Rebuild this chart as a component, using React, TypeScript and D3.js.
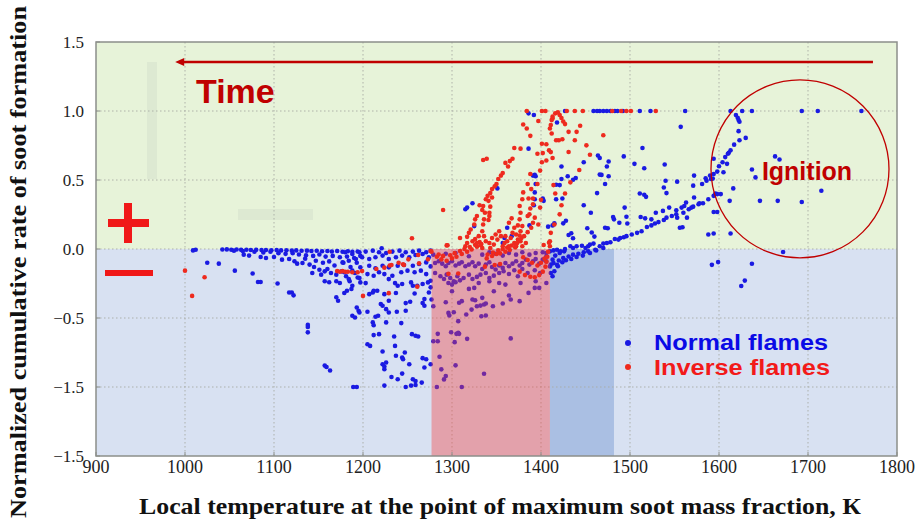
import React from "react";
import * as d3 from "d3";

// Axis ticks
const X_TICKS = [900, 1000, 1100, 1200, 1300, 1400, 1500, 1600, 1700, 1800];
const Y_TICKS = [1.5, 1.0, 0.5, 0, -0.5, -1.0, -1.5];
const Y_TICK_LABELS = ["1.5", "1.0", "0.5", "0.0", "\u22120.5", "\u22121.5", "\u22121.5"];

// Highlighted temperature windows (below zero)
const RED_BAND = [1277, 1410];
const BLUE_BAND = [1410, 1482];

// Normal flames: [temperature K, normalized cumulative rate]
const normalFlames: [number, number][] = [
  [1009, -0.01], [1012, -0.005], [1025, -0.10], [1038, -0.106], [1056, -0.157], [1076, -0.177],
  [1082, -0.239], [1085, -0.239], [1104, -0.25], [1117, -0.315], [1120, -0.315], [1122, -0.336],
  [1138, -0.55], [1138, -0.565], [1138, -0.604], [1157, -0.845], [1159, -0.855], [1163, -0.88],
  [1189, -1.0], [1193, -1.0],
  [1042, -0.004], [1047, -0.003], [1052, -0.005], [1058, -0.004], [1063, -0.006], [1069, -0.005],
  [1074, -0.007], [1080, -0.006], [1086, -0.008], [1091, -0.007], [1097, -0.009], [1103, -0.008],
  [1108, -0.01], [1114, -0.009], [1120, -0.012], [1125, -0.01], [1131, -0.013], [1137, -0.012],
  [1142, -0.015], [1148, -0.013], [1154, -0.016], [1160, -0.014], [1165, -0.018], [1171, -0.015],
  [1177, -0.02], [1183, -0.016], [1188, -0.02], [1194, -0.018],
  [1055, -0.012], [1065, -0.015], [1078, -0.02], [1088, -0.025], [1096, -0.02], [1105, -0.03],
  [1113, -0.035], [1121, -0.03], [1128, -0.04], [1136, -0.045], [1144, -0.05], [1151, -0.04],
  [1158, -0.055], [1166, -0.05], [1174, -0.06], [1182, -0.055], [1190, -0.065], [1197, -0.05],
  [1066, -0.041], [1072, -0.048], [1085, -0.058], [1091, -0.065], [1100, -0.058], [1109, -0.077],
  [1117, -0.072], [1123, -0.089], [1126, -0.106], [1132, -0.101], [1140, -0.113], [1145, -0.13],
  [1151, -0.15], [1157, -0.162], [1160, -0.145], [1164, -0.174], [1170, -0.186], [1176, -0.162],
  [1181, -0.198], [1185, -0.234], [1191, -0.174], [1196, -0.21],
  [1143, -0.174], [1153, -0.186], [1157, -0.234], [1162, -0.241], [1170, -0.234], [1174, -0.246],
  [1135, -0.07], [1147, -0.085], [1155, -0.1], [1162, -0.09], [1168, -0.12], [1178, -0.1],
  [1186, -0.13], [1193, -0.1], [1170, -0.35], [1172, -0.375],
  [1224, -0.99], [1248, -1.0], [1254, -0.99], [1259, -0.985], [1266, -0.968],
  [1232, -0.927], [1239, -0.944], [1244, -0.903], [1256, -0.944], [1259, -0.956],
  [1222, -0.835], [1224, -0.852], [1224, -0.871], [1226, -0.823],
  [1237, -0.774], [1244, -0.786], [1245, -0.799], [1252, -0.835], [1269, -0.859], [1267, -0.791],
  [1271, -0.799], [1276, -0.835],
  [1205, -0.69], [1208, -0.702], [1222, -0.743], [1236, -0.702], [1247, -0.75],
  [1212, -0.624], [1218, -0.617], [1235, -0.634], [1243, -0.537], [1255, -0.617], [1259, -0.629],
  [1262, -0.634], [1211, -0.532], [1212, -0.552], [1226, -0.532],
  [1193, -0.424], [1195, -0.448], [1196, -0.46], [1205, -0.455], [1214, -0.491], [1217, -0.484],
  [1229, -0.46], [1238, -0.455], [1248, -0.448], [1188, -0.484], [1191, -0.496],
  [1220, -0.399], [1222, -0.411], [1226, -0.436], [1229, -0.375], [1224, -0.327], [1237, -0.319],
  [1248, -0.392], [1253, -0.382], [1258, -0.322], [1269, -0.363], [1267, -0.392], [1269, -0.411],
  [1274, -0.315], [1276, -0.278],
  [1211, -0.315], [1212, -0.303], [1207, -0.327], [1216, -0.303], [1182, -0.303], [1187, -0.29],
  [1179, -0.319],
  [1188, -0.266], [1197, -0.242], [1203, -0.247], [1229, -0.218], [1236, -0.247], [1239, -0.266],
  [1244, -0.254], [1254, -0.242], [1256, -0.266], [1261, -0.266], [1267, -0.254], [1273, -0.242],
  [1276, -0.23],
  [1184, -0.218], [1194, -0.206], [1205, -0.182], [1212, -0.194], [1218, -0.169], [1224, -0.182],
  [1233, -0.194], [1243, -0.169], [1250, -0.157], [1258, -0.169], [1265, -0.157], [1271, -0.182],
  [1179, -0.169], [1188, -0.157], [1197, -0.133], [1207, -0.121], [1214, -0.14], [1222, -0.121],
  [1229, -0.133], [1239, -0.121], [1246, -0.116], [1256, -0.121], [1263, -0.109], [1271, -0.097],
  [1276, -0.126],
  [1177, -0.097], [1184, -0.085], [1192, -0.073], [1199, -0.06], [1207, -0.073], [1214, -0.06],
  [1222, -0.048], [1229, -0.073], [1237, -0.06], [1244, -0.048], [1252, -0.06], [1259, -0.044],
  [1267, -0.036], [1274, -0.06],
  [1180, -0.024], [1188, -0.036], [1196, -0.024], [1203, -0.019], [1211, -0.012], [1218, -0.024],
  [1226, -0.029], [1233, -0.019], [1241, -0.012], [1248, -0.024], [1256, -0.019], [1263, -0.012],
  [1271, -0.024], [1276, -0.012], [1221, 0.005],
  [1283, -1.0], [1311, -1.0], [1291, -0.945], [1293, -0.921], [1288, -0.872], [1304, -0.843],
  [1286, -0.781], [1336, -0.904], [1279, -0.668], [1284, -0.668], [1303, -0.675], [1299, -0.603],
  [1305, -0.615], [1307, -0.607], [1308, -0.615], [1317, -0.651], [1366, -0.648], [1284, -0.615],
  [1296, -0.463], [1302, -0.458], [1297, -0.482], [1307, -0.523], [1316, -0.475], [1322, -0.439],
  [1328, -0.415], [1333, -0.487], [1338, -0.482], [1279, -0.415], [1293, -0.386], [1308, -0.39],
  [1311, -0.378], [1323, -0.366], [1326, -0.371], [1332, -0.41], [1336, -0.402], [1338, -0.395],
  [1346, -0.415], [1357, -0.395], [1364, -0.337], [1366, -0.366], [1376, -0.378], [1386, -0.318],
  [1300, -0.306], [1319, -0.289], [1325, -0.282], [1334, -0.354], [1347, -0.306], [1277, -0.366],
  [1393, -0.282], [1398, -0.282],
  [1281, -0.101], [1285, -0.089], [1289, -0.106], [1293, -0.125], [1296, -0.101], [1300, -0.089],
  [1304, -0.12], [1308, -0.106], [1311, -0.096], [1315, -0.125], [1319, -0.113], [1323, -0.096],
  [1326, -0.125], [1330, -0.106], [1334, -0.145], [1338, -0.113], [1342, -0.096], [1345, -0.13],
  [1349, -0.149], [1353, -0.12], [1357, -0.137], [1360, -0.101], [1364, -0.125], [1368, -0.106],
  [1372, -0.089], [1376, -0.12], [1379, -0.101], [1383, -0.077], [1387, -0.113], [1391, -0.089],
  [1394, -0.072], [1398, -0.106], [1402, -0.077], [1406, -0.053],
  [1281, -0.174], [1287, -0.198], [1291, -0.217], [1294, -0.186], [1298, -0.21], [1302, -0.234],
  [1306, -0.198], [1309, -0.227], [1313, -0.21], [1319, -0.186], [1323, -0.217], [1328, -0.202],
  [1332, -0.186], [1338, -0.174], [1342, -0.21], [1347, -0.193], [1353, -0.174], [1358, -0.161],
  [1364, -0.181], [1370, -0.154], [1374, -0.198], [1379, -0.145], [1385, -0.174], [1393, -0.154],
  [1399, -0.174],
  [1279, -0.041], [1293, -0.034], [1304, -0.029], [1319, -0.053], [1334, -0.041], [1342, -0.024],
  [1349, -0.034], [1357, -0.048], [1364, -0.029], [1372, -0.041], [1379, -0.024], [1387, -0.041],
  [1394, -0.029], [1402, -0.024],
  [1296, -0.246], [1300, -0.258], [1304, -0.241], [1330, -0.246], [1342, -0.234], [1353, -0.246],
  [1360, -0.258], [1377, -0.246], [1394, -0.234], [1406, -0.246],
  [1411, -0.113], [1413, -0.077], [1416, -0.048], [1421, -0.029], [1426, -0.017], [1415, -0.161],
  [1419, -0.125], [1424, -0.096], [1428, -0.082], [1434, -0.072], [1440, -0.058], [1447, -0.048],
  [1455, -0.029], [1462, -0.01], [1470, 0.007], [1413, -0.198], [1411, -0.174],
  [1414, -0.102], [1420, -0.083], [1425, -0.066], [1431, -0.054], [1436, -0.041], [1442, -0.034],
  [1448, -0.024], [1453, -0.017], [1461, -0.005], [1410, -0.127], [1418, -0.115], [1406, -0.09],
  [1406, -0.029], [1410, -0.017], [1414, -0.01], [1418, -0.005], [1422, -0.017], [1427, 0.0],
  [1433, 0.02], [1436, 0.007], [1440, 0.02], [1446, 0.024], [1450, 0.007], [1453, 0.02],
  [1455, 0.032], [1459, 0.039], [1466, 0.02], [1470, 0.039], [1474, 0.044], [1478, 0.049],
  [1483, 0.073], [1487, 0.068], [1489, 0.08], [1493, 0.085], [1496, 0.093], [1502, 0.105],
  [1508, 0.117], [1513, 0.129], [1519, 0.159], [1524, 0.171], [1528, 0.185], [1532, 0.195],
  [1538, 0.21], [1541, 0.227], [1547, 0.239], [1552, 0.251], [1560, 0.263], [1566, 0.288],
  [1571, 0.307], [1577, 0.324], [1582, 0.332], [1588, 0.361], [1594, 0.385], [1596, 0.402],
  [1427, 1], [1459, 1], [1463, 1], [1466, 1], [1470, 1], [1474, 1], [1478, 1], [1483, 1],
  [1486, 1], [1492, 1], [1511, 1], [1523, 1], [1562, 1], [1386, 0.983], [1392, 0.971],
  [1418, 0.917], [1557, 0.885], [1514, 0.732], [1493, 0.671], [1464, 0.678], [1466, 0.659],
  [1476, 0.634], [1474, 0.598], [1476, 0.527], [1468, 0.537], [1466, 0.539], [1448, 0.629],
  [1505, 0.617], [1516, 0.585], [1539, 0.612], [1423, 0.598], [1439, 0.515], [1436, 0.502],
  [1430, 0.527], [1423, 0.507], [1421, 0.463], [1417, 0.466], [1402, 0.366], [1403, 0.349],
  [1417, 0.361], [1424, 0.366], [1472, 0.471], [1463, 0.405], [1511, 0.402], [1516, 0.393],
  [1518, 0.378], [1540, 0.495], [1538, 0.446], [1541, 0.405], [1553, 0.488], [1572, 0.532],
  [1571, 0.459], [1581, 0.471], [1586, 0.495], [1585, 0.512], [1590, 0.532], [1448, 0.317],
  [1456, 0.263], [1481, 0.232], [1496, 0.234], [1497, 0.185], [1494, 0.3], [1512, 0.232],
  [1517, 0.222], [1524, 0.215], [1529, 0.263], [1537, 0.276], [1544, 0.3], [1552, 0.281],
  [1558, 0.3], [1561, 0.312], [1563, 0.337], [1569, 0.3], [1572, 0.373], [1578, 0.332],
  [1594, 0.268], [1553, 0.227], [1564, 0.227], [1556, 0.154], [1559, 0.158], [1588, 0.105],
  [1386, 0.727], [1391, 0.532], [1393, 0.537], [1394, 0.527], [1393, 0.41], [1351, 0.439],
  [1315, 0.288], [1317, 0.3], [1323, 0.332], [1325, 0.166], [1362, 0.154], [1387, 0.171],
  [1359, 0.08], [1357, 0.044], [1367, 0.093], [1394, 0.471], [1393, 0.361], [1392, 0.317],
  [1413, 0.171], [1408, 0.162], [1415, 0.186], [1425, 0.186], [1428, 0.205], [1431, 0.101],
  [1434, 0.114], [1436, 0.078], [1472, 0.154], [1475, 0.15], [1482, 0.215], [1488, 0.19],
  [1452, 0.15], [1457, 0.12], [1460, 0.09],
  [1613, 1], [1626, 1], [1637, 1], [1693, 1], [1711, 1], [1760, 1],
  [1619, 0.971], [1621, 0.951], [1622, 0.934], [1623, 0.922], [1622, 0.854], [1630, 0.805],
  [1623, 0.788], [1617, 0.756], [1613, 0.715], [1611, 0.698], [1610, 0.69], [1607, 0.666],
  [1604, 0.629], [1600, 0.6], [1598, 0.561], [1594, 0.544], [1593, 0.51], [1591, 0.507],
  [1609, 0.617], [1605, 0.556], [1594, 0.654], [1663, 0.671], [1668, 0.649], [1637, 0.576],
  [1641, 0.519], [1715, 0.422], [1646, 0.349], [1666, 0.349], [1693, 0.341], [1616, 0.439],
  [1612, 0.349], [1598, 0.398], [1602, 0.398], [1598, 0.268], [1594, 0.112], [1613, 0.112],
  [1592, -0.115], [1599, -0.095], [1637, -0.107], [1629, -0.229], [1625, -0.268], [1672, -0.022],
];

// Inverse flames: [temperature K, normalized cumulative rate]
const inverseFlames: [number, number][] = [
  [1000, -0.157], [1022, -0.205], [1008, -0.34],
  [1171, -0.16], [1174, -0.165], [1177, -0.16], [1180, -0.165], [1183, -0.165], [1188, -0.169],
  [1194, -0.169], [1199, -0.16], [1200, -0.34], [1215, -0.145], [1224, -0.135], [1230, -0.02],
  [1230, -0.12], [1229, -0.32], [1240, -0.1], [1246, -0.116], [1251, -0.075], [1261, -0.273],
  [1262, -0.043], [1263, -0.104], [1273, -0.075], [1232, -0.116], [1245, -0.111], [1276, -0.015],
  [1255, 0.078], [1290, 0.283], [1335, 0.645],
  [1277, -0.02], [1283, -0.056], [1288, -0.075], [1294, -0.085], [1300, -0.068], [1305, -0.056],
  [1311, -0.036], [1317, -0.02], [1322, -0.003], [1328, 0.017], [1333, 0.036], [1294, 0.026],
  [1307, -0.177], [1296, -0.18], [1337, -0.128], [1339, -0.068], [1345, -0.051], [1350, -0.036],
  [1354, -0.032], [1360, -0.02], [1365, -0.007], [1371, 0.012], [1373, 0.041], [1348, -0.116],
  [1354, -0.109], [1376, -0.164], [1382, -0.189], [1388, -0.201], [1393, -0.205], [1398, -0.189],
  [1402, -0.164], [1405, -0.128], [1406, -0.092], [1407, -0.056], [1408, -0.02], [1403, 0.029],
  [1409, 0.046],
  [1285, -0.04], [1290, -0.05], [1298, -0.045], [1303, -0.03], [1309, -0.015], [1314, 0.0],
  [1320, 0.015], [1326, 0.03], [1331, 0.05], [1340, -0.04], [1346, -0.025], [1352, -0.01],
  [1357, 0.0], [1362, 0.01], [1367, 0.025], [1375, 0.06], [1378, 0.08], [1380, -0.06],
  [1385, -0.08], [1390, -0.1], [1396, -0.12], [1400, -0.1], [1404, -0.07],
  [1384, 1.0], [1401, 1.0], [1405, 1.0], [1429, 1.0], [1438, 1.0], [1447, 1.0], [1480, 1.0],
  [1490, 1.0], [1496, 1.0], [1501, 1.0], [1529, 1.0],
  [1397, 0.927], [1413, 0.946], [1411, 0.898], [1380, 0.902], [1384, 0.873], [1388, 0.82],
  [1412, 0.837], [1420, 0.788], [1401, 0.763], [1406, 0.759], [1409, 0.715], [1411, 0.702],
  [1377, 0.727], [1370, 0.732], [1396, 0.69], [1402, 0.695], [1413, 0.659], [1339, 0.654],
  [1365, 0.637], [1360, 0.624], [1368, 0.654], [1363, 0.598], [1401, 0.629], [1399, 0.568],
  [1406, 0.641], [1357, 0.551], [1355, 0.532], [1352, 0.507], [1350, 0.471], [1348, 0.454],
  [1388, 0.544], [1385, 0.471], [1389, 0.434], [1396, 0.471], [1345, 0.434], [1343, 0.405],
  [1340, 0.385], [1338, 0.361], [1345, 0.373], [1341, 0.349], [1380, 0.41], [1386, 0.366],
  [1391, 0.366], [1335, 0.312], [1334, 0.283], [1331, 0.317], [1337, 0.263], [1343, 0.307],
  [1342, 0.263], [1379, 0.361], [1376, 0.312], [1377, 0.263], [1391, 0.324], [1388, 0.293],
  [1387, 0.251], [1328, 0.239], [1326, 0.215], [1325, 0.178], [1336, 0.215], [1335, 0.178],
  [1342, 0.239], [1341, 0.21], [1367, 0.222], [1364, 0.19], [1376, 0.215], [1374, 0.171],
  [1385, 0.239], [1397, 0.178], [1321, 0.141], [1319, 0.117], [1317, 0.088], [1309, 0.08],
  [1334, 0.129], [1336, 0.093], [1353, 0.129], [1355, 0.093], [1351, 0.068], [1360, 0.093],
  [1370, 0.154], [1368, 0.117], [1379, 0.166], [1377, 0.129], [1376, 0.098], [1374, 0.068],
  [1295, 0.027], [1317, 0.044], [1315, 0.02], [1328, 0.044], [1332, 0.027], [1334, 0.007],
  [1342, 0.044], [1347, 0.032], [1343, 0.007], [1357, 0.02], [1364, 0.02], [1370, 0.044],
  [1372, 0.02], [1379, 0.02], [1383, 0.044],
  [1323, 0.056], [1326, 0.073], [1330, 0.093], [1338, 0.056], [1345, 0.08], [1349, 0.105],
  [1359, 0.044], [1362, 0.056], [1366, 0.08], [1372, 0.105], [1377, 0.056], [1381, 0.093],
  [1385, 0.122], [1389, 0.154], [1391, 0.19], [1393, 0.227],
  [1416, 0.983], [1413, 0.959], [1412, 0.934], [1421, 0.971], [1423, 0.949], [1425, 0.924],
  [1427, 0.905], [1419, 0.99], [1410, 0.873], [1417, 0.788], [1424, 0.795], [1431, 0.849],
  [1438, 0.788], [1444, 0.893], [1440, 0.849], [1431, 0.703], [1451, 0.751], [1470, 0.824],
  [1455, 0.683], [1443, 0.573], [1433, 0.483], [1427, 0.402], [1414, 0.463], [1416, 0.402],
  [1423, 0.317], [1421, 0.251], [1415, 0.178], [1411, 0.117], [1410, 0.056], [1410, 0.02],
  [1399, 0.3], [1400, 0.356],
];

const W = 915;
const H = 520;
const M = { left: 96, right: 897, top: 42, bottom: 456 };

const BG_POS = "#e7f3d9";
const BG_NEG = "#d8e1f2";
const BLUE = "#1a1ae2";
const RED = "#ee2a1e";
const DARK_RED = "#c00000";
const SERIF = "'Liberation Serif', 'Times New Roman', serif";
const SANS = "'Liberation Sans', Arial, sans-serif";

export default function App() {
  const x = d3.scaleLinear().domain([900, 1800]).range([M.left, M.right]);
  const y = d3.scaleLinear().domain([-1.5, 1.5]).range([M.bottom, M.top]);
  const y0 = y(0);
  const r = 2.3;

  const arrowY = y(1.355);
  const arrowX0 = x(1773);
  const arrowX1 = x(989);

  const ignX = x(1691);
  const ignY = y(0.58);

  return (
    <svg width={W} height={H} style={{ position: "absolute", left: 0, top: 0, background: "#fff" }}>
      {/* quadrants */}
      <rect x={M.left} y={M.top} width={M.right - M.left} height={y0 - M.top} fill={BG_POS} />
      <rect x={M.left} y={y0} width={M.right - M.left} height={M.bottom - y0} fill={BG_NEG} />
      <rect x={x(BLUE_BAND[0])} y={y0} width={x(BLUE_BAND[1]) - x(BLUE_BAND[0])} height={M.bottom - y0} fill="#aabfe3" />

      {/* faint sign marks */}
      <rect x={147} y={62} width={10} height={117} fill="#dde9d2" />
      <rect x={238} y={209} width={75} height={11} fill="#dde9d2" />

      {/* grid */}
      {X_TICKS.slice(1, -1).map((t) => (
        <line key={"gx" + t} x1={x(t)} x2={x(t)} y1={M.top} y2={M.bottom} stroke="#a8aca4" strokeWidth={0.9} strokeDasharray="1.5,2.5" />
      ))}
      {Y_TICKS.slice(1, -1).map((t) => (
        <line key={"gy" + t} x1={M.left} x2={M.right} y1={y(t)} y2={y(t)} stroke="#a8aca4" strokeWidth={0.9} strokeDasharray="1.5,2.5" />
      ))}

      {/* normal flames */}
      {normalFlames.map(([t, v], i) => (
        <circle key={"n" + i} cx={x(t)} cy={y(v)} r={r} fill={BLUE} />
      ))}

      {/* translucent red window */}
      <rect x={x(RED_BAND[0])} y={y0} width={x(RED_BAND[1]) - x(RED_BAND[0])} height={M.bottom - y0} fill="rgb(246,64,66)" fillOpacity={0.4} />

      {/* inverse flames */}
      {inverseFlames.map(([t, v], i) => (
        <circle key={"i" + i} cx={x(t)} cy={y(v)} r={r} fill={RED} />
      ))}

      {/* frame */}
      <rect x={M.left} y={M.top} width={M.right - M.left} height={M.bottom - M.top} fill="none" stroke="#8c8f8a" strokeWidth={1.5} />
      {Y_TICKS.map((t) => (
        <line key={"ty" + t} x1={M.left} x2={M.left + 4} y1={y(t)} y2={y(t)} stroke="#8c8f8a" strokeWidth={1} />
      ))}
      {X_TICKS.map((t) => (
        <line key={"tx" + t} x1={x(t)} x2={x(t)} y1={M.bottom} y2={M.bottom - 4} stroke="#8c8f8a" strokeWidth={1} />
      ))}

      {/* tick labels */}
      {Y_TICKS.map((t, i) => (
        <text key={"ly" + t} x={84} y={y(t) + 6} textAnchor="end" fontFamily={SERIF} fontSize={17} fill="#222">
          {Y_TICK_LABELS[i]}
        </text>
      ))}
      {X_TICKS.map((t) => (
        <text key={"lx" + t} x={x(t)} y={473} textAnchor="middle" fontFamily={SERIF} fontSize={18} fill="#222">
          {t}
        </text>
      ))}

      {/* axis titles */}
      <text x={500} y={514} textAnchor="middle" fontFamily={SERIF} fontWeight="bold" fontSize={23} fill="#111" textLength={722} lengthAdjust="spacingAndGlyphs">
        Local temperature at the point of maximum soot mass fraction, К
      </text>
      <text transform="translate(26,262) rotate(-90)" textAnchor="middle" fontFamily={SERIF} fontWeight="bold" fontSize={23} fill="#111" textLength={512} lengthAdjust="spacingAndGlyphs">
        Normalized cumulative rate of soot formation
      </text>

      {/* time arrow */}
      <line x1={arrowX0} x2={arrowX1 + 6} y1={arrowY} y2={arrowY} stroke={DARK_RED} strokeWidth={2.5} />
      <path d={`M${arrowX1},${arrowY} L${arrowX1 + 9},${arrowY - 4} L${arrowX1 + 9},${arrowY + 4} Z`} fill={DARK_RED} />
      <text x={196} y={103} fontFamily={SANS} fontWeight="bold" fontSize={34} fill={DARK_RED}>
        Time
      </text>

      {/* signs */}
      <rect x={108} y={219} width={41} height={8} fill="#f01818" />
      <rect x={124} y={203} width={8} height={40} fill="#f01818" />
      <rect x={105} y={270} width={48} height={6} fill="#f01818" />

      {/* ignition */}
      <circle cx={ignX} cy={ignY} r={89} fill="none" stroke={DARK_RED} strokeWidth={1.3} />
      <text x={807} y={180} textAnchor="middle" fontFamily={SANS} fontWeight="bold" fontSize={25} fill={DARK_RED}>
        Ignition
      </text>

      {/* legend */}
      <circle cx={628} cy={343} r={3} fill={BLUE} />
      <text x={654} y={350} fontFamily={SANS} fontWeight="bold" fontSize={22} fill="#0a0ae6" textLength={174} lengthAdjust="spacingAndGlyphs">
        Normal flames
      </text>
      <circle cx={628} cy={367} r={3} fill={RED} />
      <text x={654} y={375} fontFamily={SANS} fontWeight="bold" fontSize={22} fill="#f21a1a" textLength={176} lengthAdjust="spacingAndGlyphs">
        Inverse flames
      </text>
    </svg>
  );
}
